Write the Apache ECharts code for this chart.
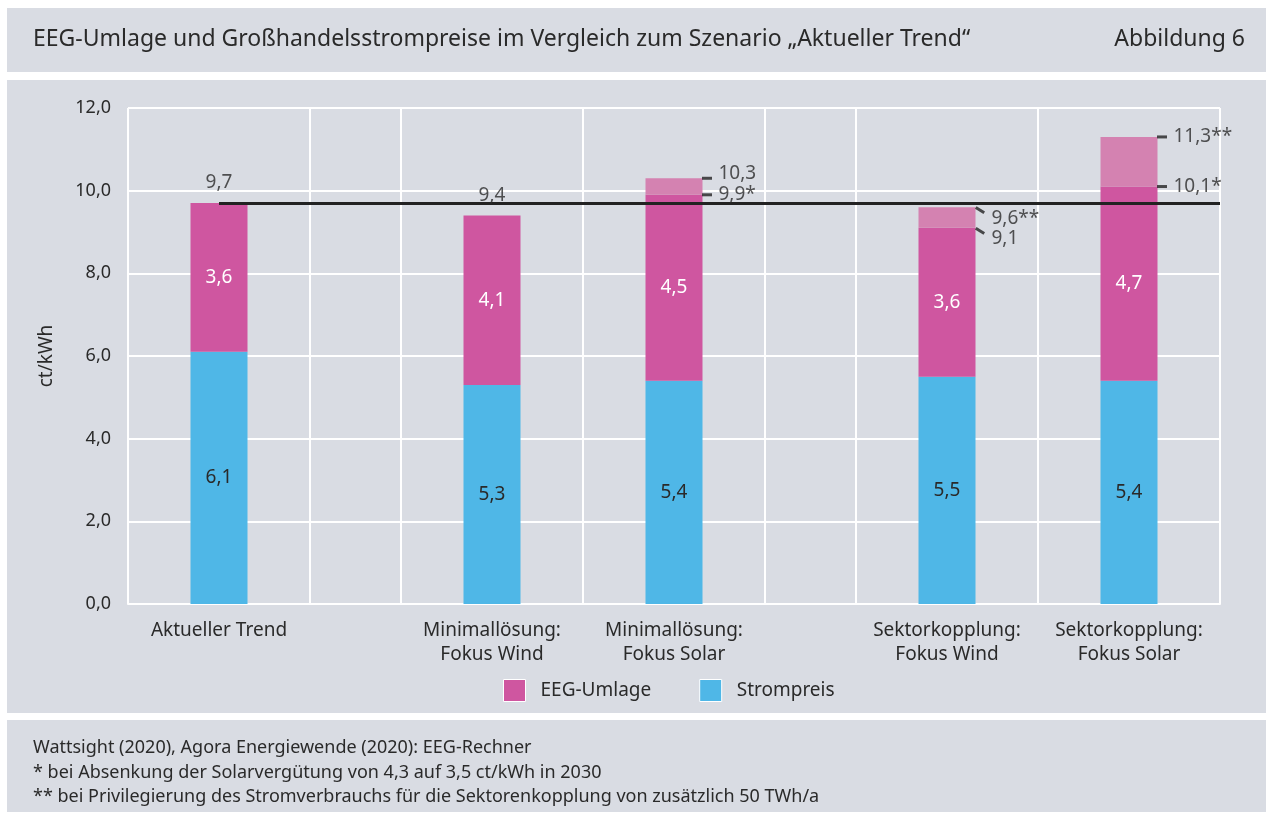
<!DOCTYPE html>
<html lang="de">
<head>
    <meta charset="UTF-8">
    <title>EEG-Umlage und Großhandelsstrompreise</title>
    <script src="https://cdn.jsdelivr.net/npm/echarts@6/dist/echarts.min.js"></script>
    <style>
        html, body { margin: 0; padding: 0; background: #ffffff; }
        #main { width: 1266px; height: 818px; }
    </style>
</head>
<body>
<div id="main"></div>
<script>
    // Daten
    var categories = ['Aktueller Trend', 'Minimallösung:\nFokus Wind', 'Minimallösung:\nFokus Solar',
        'Sektorkopplung:\nFokus Wind', 'Sektorkopplung:\nFokus Solar'];
    var strompreis = [6.1, 5.3, 5.4, 5.5, 5.4];
    var eegUmlage = [3.6, 4.1, 4.5, 3.6, 4.7];
    // Summe ohne Absenkung / Privilegierung (nur bei den Varianten angegeben)
    var altSumme = [null, null, 10.3, 9.6, 11.3];
    var baseMark = ['', '', '*', '', '*'];
    var altMark = ['', '', '', '**', '**'];
    var yTicks = [0, 2, 4, 6, 8, 10, 12];

    // Layout: 13 Positionen, Balken auf 1,4,6,9,11, Trennlinien dazwischen
    var slotOf = [1, 4, 6, 9, 11];
    var splitSlots = [0, 2, 3, 5, 7, 8, 10, 12];
    var nSlots = 13;

    var pink = '#cf56a0', lightPink = '#d482b1', blue = '#4fb7e7', bg = '#d9dce3', ink = '#2a2a2a';
    var font = 'Noto Sans';

    function fmt(v) { return v.toFixed(1).replace('.', ','); }

    var xData = [];
    for (var i = 0; i < nSlots; i++) xData.push('');
    slotOf.forEach(function (s, i) { xData[s] = categories[i]; });

    var stromData = [], eegData = [], extraData = [];
    for (var i = 0; i < nSlots; i++) { stromData.push(null); eegData.push(null); extraData.push(null); }

    var topLabels = [], dashes = [], sideLabels = [];
    slotOf.forEach(function (s, i) {
        var sum = +(strompreis[i] + eegUmlage[i]).toFixed(1);
        stromData[s] = strompreis[i];
        eegData[s] = eegUmlage[i];
        if (altSumme[i] == null) {
            topLabels.push({ value: [s, sum], label: { formatter: fmt(sum) } });
        } else {
            extraData[s] = +(altSumme[i] - sum).toFixed(1);
            var diag = (i === 3);
            [[sum, baseMark[i]], [altSumme[i], altMark[i]]].forEach(function (p, k) {
                dashes.push({
                    value: [s, p[0]],
                    symbolRotate: diag ? -32 : 0,
                    symbolOffset: diag ? [33, 3] : [33, 0]
                });
                sideLabels.push({
                    value: [s, p[0]],
                    label: {
                        formatter: fmt(p[0]) + p[1],
                        offset: diag ? [0, 11] : (i === 2 && k === 1 ? [0, -5] : [0, 0])
                    }
                });
            });
        }
    });

    var refValue = strompreis[0] + eegUmlage[0];

    var myChart = echarts.init(document.getElementById('main'));
    var option = {
        backgroundColor: '#ffffff',
        textStyle: { fontFamily: font },
        animation: false,
        graphic: [
            { type: 'rect', z: -10, shape: { x: 7, y: 8, width: 1259, height: 64 }, style: { fill: bg } },
            { type: 'rect', z: -10, shape: { x: 7, y: 80, width: 1259, height: 633 }, style: { fill: bg } },
            { type: 'rect', z: -10, shape: { x: 7, y: 720, width: 1259, height: 92 }, style: { fill: bg } }
        ],
        title: [
            {
                text: 'EEG-Umlage und Großhandelsstrompreise im Vergleich zum Szenario „Aktueller Trend“',
                left: 33, top: 28, padding: 0,
                textStyle: { fontFamily: font, fontSize: 23, fontWeight: 'normal', color: ink }
            },
            {
                text: 'Abbildung 6',
                right: 21, top: 28, padding: 0,
                textStyle: { fontFamily: font, fontSize: 23, fontWeight: 'normal', color: ink }
            },
            {
                text: 'Wattsight (2020), Agora Energiewende (2020): EEG-Rechner\n' +
                    '* bei Absenkung der Solarvergütung von 4,3 auf 3,5 ct/kWh in 2030\n' +
                    '** bei Privilegierung des Stromverbrauchs für die Sektorenkopplung von zusätzlich 50 TWh/a',
                left: 33, top: 736, padding: 0,
                textStyle: { fontFamily: font, fontSize: 18, fontWeight: 'normal', color: ink, lineHeight: 24.5 }
            }
        ],
        legend: {
            data: ['EEG-Umlage', 'Strompreis'],
            left: 503, top: 679, padding: 0,
            icon: 'rect',
            itemWidth: 22, itemHeight: 22, itemGap: 48,
            itemStyle: { borderColor: '#ffffff', borderWidth: 1 },
            textStyle: { fontFamily: font, fontSize: 19, color: ink, padding: [0, 0, 0, 10] }
        },
        grid: { left: 128, right: 46, top: 108, bottom: 214 },
        xAxis: {
            type: 'category',
            data: xData,
            boundaryGap: false,
            axisLine: { lineStyle: { color: '#ffffff', width: 2 } },
            axisTick: { show: false },
            axisLabel: { interval: 0, fontSize: 19, color: ink, lineHeight: 24, margin: 15 },
            splitLine: {
                show: true,
                interval: function (idx) { return splitSlots.indexOf(idx) >= 0; },
                lineStyle: { color: '#ffffff', width: 2 }
            }
        },
        yAxis: {
            type: 'value',
            min: yTicks[0], max: yTicks[yTicks.length - 1], interval: 2,
            name: 'ct/kWh', nameLocation: 'middle', nameGap: 72, nameRotate: 90,
            nameTextStyle: { fontSize: 19, color: ink },
            axisLine: { show: false },
            axisTick: { show: false },
            axisLabel: { fontSize: 18, color: ink, margin: 17, formatter: function (v) { return fmt(v); } },
            splitLine: { lineStyle: { color: '#ffffff', width: 2 } }
        },
        series: [
            {
                name: 'Strompreis', type: 'bar', stack: 'a', barWidth: 57,
                data: stromData,
                itemStyle: { color: blue },
                label: { show: true, position: 'inside', fontSize: 19, color: ink, formatter: function (p) { return fmt(p.value); } }
            },
            {
                name: 'EEG-Umlage', type: 'bar', stack: 'a', barWidth: 57,
                data: eegData,
                itemStyle: { color: pink },
                label: { show: true, position: 'inside', fontSize: 19, color: '#ffffff', formatter: function (p) { return fmt(p.value); } }
            },
            {
                name: 'Zusatz', type: 'bar', stack: 'a', barWidth: 57,
                data: extraData,
                itemStyle: { color: lightPink }
            },
            {
                name: 'Summe', type: 'scatter', symbol: 'rect', symbolSize: 1, z: 5,
                itemStyle: { color: 'transparent' },
                data: topLabels,
                label: { show: true, position: 'top', distance: 10, fontSize: 19, color: ink }
            },
            {
                name: 'Marken', type: 'scatter', symbol: 'rect', symbolSize: [10, 3], z: 5,
                itemStyle: { color: '#222222' },
                data: dashes,
                markLine: {
                    silent: true, symbol: 'none', label: { show: false },
                    lineStyle: { color: '#222222', width: 3, type: 'solid' },
                    data: [[{ xAxis: slotOf[0], yAxis: refValue }, { xAxis: nSlots - 1, yAxis: refValue }]]
                }
            },
            {
                name: 'Beschriftung', type: 'scatter', symbol: 'rect', symbolSize: 1, z: 5,
                itemStyle: { color: 'transparent' },
                data: sideLabels,
                label: { show: true, position: 'right', distance: 44, fontSize: 19, color: ink }
            }
        ]
    };
    myChart.setOption(option);
</script>
</body>
</html>
